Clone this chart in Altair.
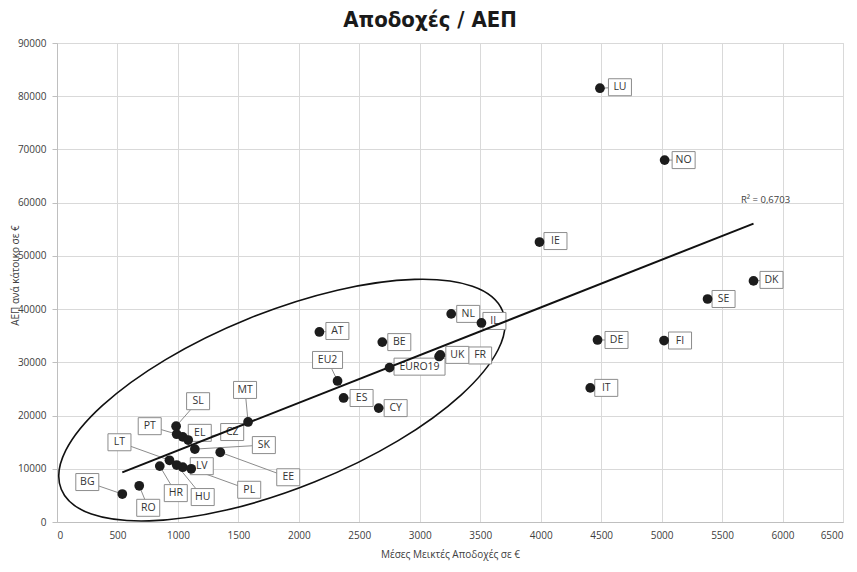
import altair as alt
import pandas as pd

# ---- data ----
countries = ["LU", "NO", "IE", "DK", "SE", "DE", "FI", "IT", "NL", "IL", "FR", "UK",
             "EURO19", "BE", "AT", "EU2", "ES", "CY", "MT", "SL", "PT", "EL", "CZ",
             "SK", "EE", "LV", "PL", "HU", "HR", "LT", "BG", "RO"]
salary = [4490, 5025, 3990, 5760, 5380, 4470, 5020, 4410, 3260, 3510, 3160, 3170,
          2750, 2690, 2170, 2320, 2370, 2660, 1580, 985, 990, 1040, 1085,
          1140, 1350, 1040, 1110, 990, 850, 930, 540, 680]
gdp = [81500, 68000, 52600, 45300, 41900, 34200, 34100, 25200, 39100, 37400, 31100, 31400,
       29000, 33800, 35700, 26500, 23300, 21400, 18800, 18000, 16500, 16000, 15400,
       13700, 13100, 10300, 10000, 10700, 10500, 11600, 5250, 6800]

x_ticks = list(range(0, 6501, 500))
y_ticks = list(range(0, 90001, 10000))
r2_text = "R² = 0,6703"

# ---- label placement (pixel offsets from the marker, style only) ----
label_dx = [20, 19, 16, 18, 16, 19, 16, 16, 17, 13, 41, 17,
            30, 17, 18, -10, 18, 17, -3, 22, -27, 17, 44,
            69, 68, 19, 58, 26, 16, -50, -35, 9]
label_dy = [-1, 0, -1, -1, 0, 0, 0, 0, 0, -2, -1, 0,
            -1, 0, -1, -21, 0, 0, -32, -25, -8, -4, -8,
            -4, 25, -1, 21, 32, 27, -18, -12, 22]

W, H = 786, 479
XMAX, YMAX = 6500, 90000
upx = XMAX / W   # data units per pixel (x)
upy = YMAX / H   # data units per pixel (y)

rows = []
for c, xv, yv, dx, dy in zip(countries, salary, gdp, label_dx, label_dy):
    lx = xv + dx * upx
    ly = yv - dy * upy
    bw = 7.0 * len(c) + 9
    bh = 17
    rows.append(dict(country=c, x=xv, y=yv, lx=lx, ly=ly,
                     bx=lx - bw / 2 * upx, bx2=lx + bw / 2 * upx,
                     by=ly - bh / 2 * upy, by2=ly + bh / 2 * upy))
df = pd.DataFrame(rows)

xs = alt.Scale(domain=[0, XMAX], nice=False, zero=False)
ys = alt.Scale(domain=[0, YMAX], nice=False, zero=False)

base = alt.Chart(df)

# ellipse annotation around the lower-income cluster
ell_k = 0.5523
ell_r = 0.37
ellipse_path = (
    f"M -1,0 C -1,{-ell_r*ell_k:.4f} {-ell_k:.4f},{-ell_r} 0,{-ell_r} "
    f"C {ell_k:.4f},{-ell_r} 1,{-ell_r*ell_k:.4f} 1,0 "
    f"C 1,{ell_r*ell_k:.4f} {ell_k:.4f},{ell_r} 0,{ell_r} "
    f"C {-ell_k:.4f},{ell_r} -1,{ell_r*ell_k:.4f} -1,0 Z"
)
ell_df = pd.DataFrame({"x": [1860], "y": [22900]})
ellipse = alt.Chart(ell_df).mark_point(
    shape=ellipse_path, size=476 ** 2, angle=338, filled=False,
    stroke="#111111", strokeWidth=1.6, opacity=1
).encode(
    x=alt.X("x:Q", scale=xs,
            axis=alt.Axis(values=x_ticks, format="d", title="Μέσες Μεικτές Αποδοχές σε €",
                          ticks=False, labelPadding=8, titlePadding=9)),
    y=alt.Y("y:Q", scale=ys,
            axis=alt.Axis(values=y_ticks, format="d", title="ΑΕΠ ανά κάτοικο σε €",
                          tickSize=5, labelPadding=6, titleX=-42, titleY=232,
                          titleAngle=270, titleAlign="center", titleBaseline="middle")),
)

leaders = base.mark_rule(color="#8c8c8c", strokeWidth=1).encode(
    x=alt.X("x:Q", scale=xs), y=alt.Y("y:Q", scale=ys),
    x2="lx:Q", y2="ly:Q")

boxes = base.mark_rect(fill="white", stroke="#8c8c8c", strokeWidth=1).encode(
    x=alt.X("bx:Q", scale=xs), x2="bx2:Q",
    y=alt.Y("by:Q", scale=ys), y2="by2:Q")

texts = base.mark_text(font="Open Sans", fontSize=10.5, color="#333333",
                       align="center", baseline="middle").encode(
    x=alt.X("lx:Q", scale=xs), y=alt.Y("ly:Q", scale=ys), text="country:N")

trend = base.transform_regression(
    "x", "y", extent=[min(salary), max(salary)]
).mark_line(color="#111111", strokeWidth=2).encode(
    x=alt.X("x:Q", scale=xs), y=alt.Y("y:Q", scale=ys))

r2 = base.transform_regression(
    "x", "y", extent=[max(salary), max(salary) + 1]
).transform_filter(alt.datum.x <= max(salary)).mark_text(
    text=r2_text, font="Open Sans", fontSize=9.5, color="#404040",
    dx=12, dy=-24, align="center", baseline="middle"
).encode(x=alt.X("x:Q", scale=xs), y=alt.Y("y:Q", scale=ys))

points = base.mark_circle(size=95, color="#1c1c1c", opacity=1).encode(
    x=alt.X("x:Q", scale=xs), y=alt.Y("y:Q", scale=ys))

chart = alt.layer(ellipse, leaders, boxes, texts, trend, r2, points).properties(
    width=W, height=H,
    autosize="none",
    padding={"left": 49, "top": 35, "right": 6, "bottom": 41},
    title=alt.TitleParams("Αποδοχές / ΑΕΠ", font="DejaVu Sans Condensed",
                          fontSize=22, fontWeight="bold", color="#1a1a1a",
                          anchor="middle", dx=-20, offset=6),
).configure_view(stroke="#d9d9d9").configure_axis(
    gridColor="#d9d9d9", gridWidth=1, domainColor="#bfbfbf", tickColor="#bfbfbf",
    labelColor="#404040", labelFont="Open Sans", labelFontSize=10,
    titleColor="#404040", titleFont="Open Sans", titleFontSize=10, titleFontWeight="normal",
)

chart.save("out.html", embed_options={"renderer": "svg", "actions": False})
